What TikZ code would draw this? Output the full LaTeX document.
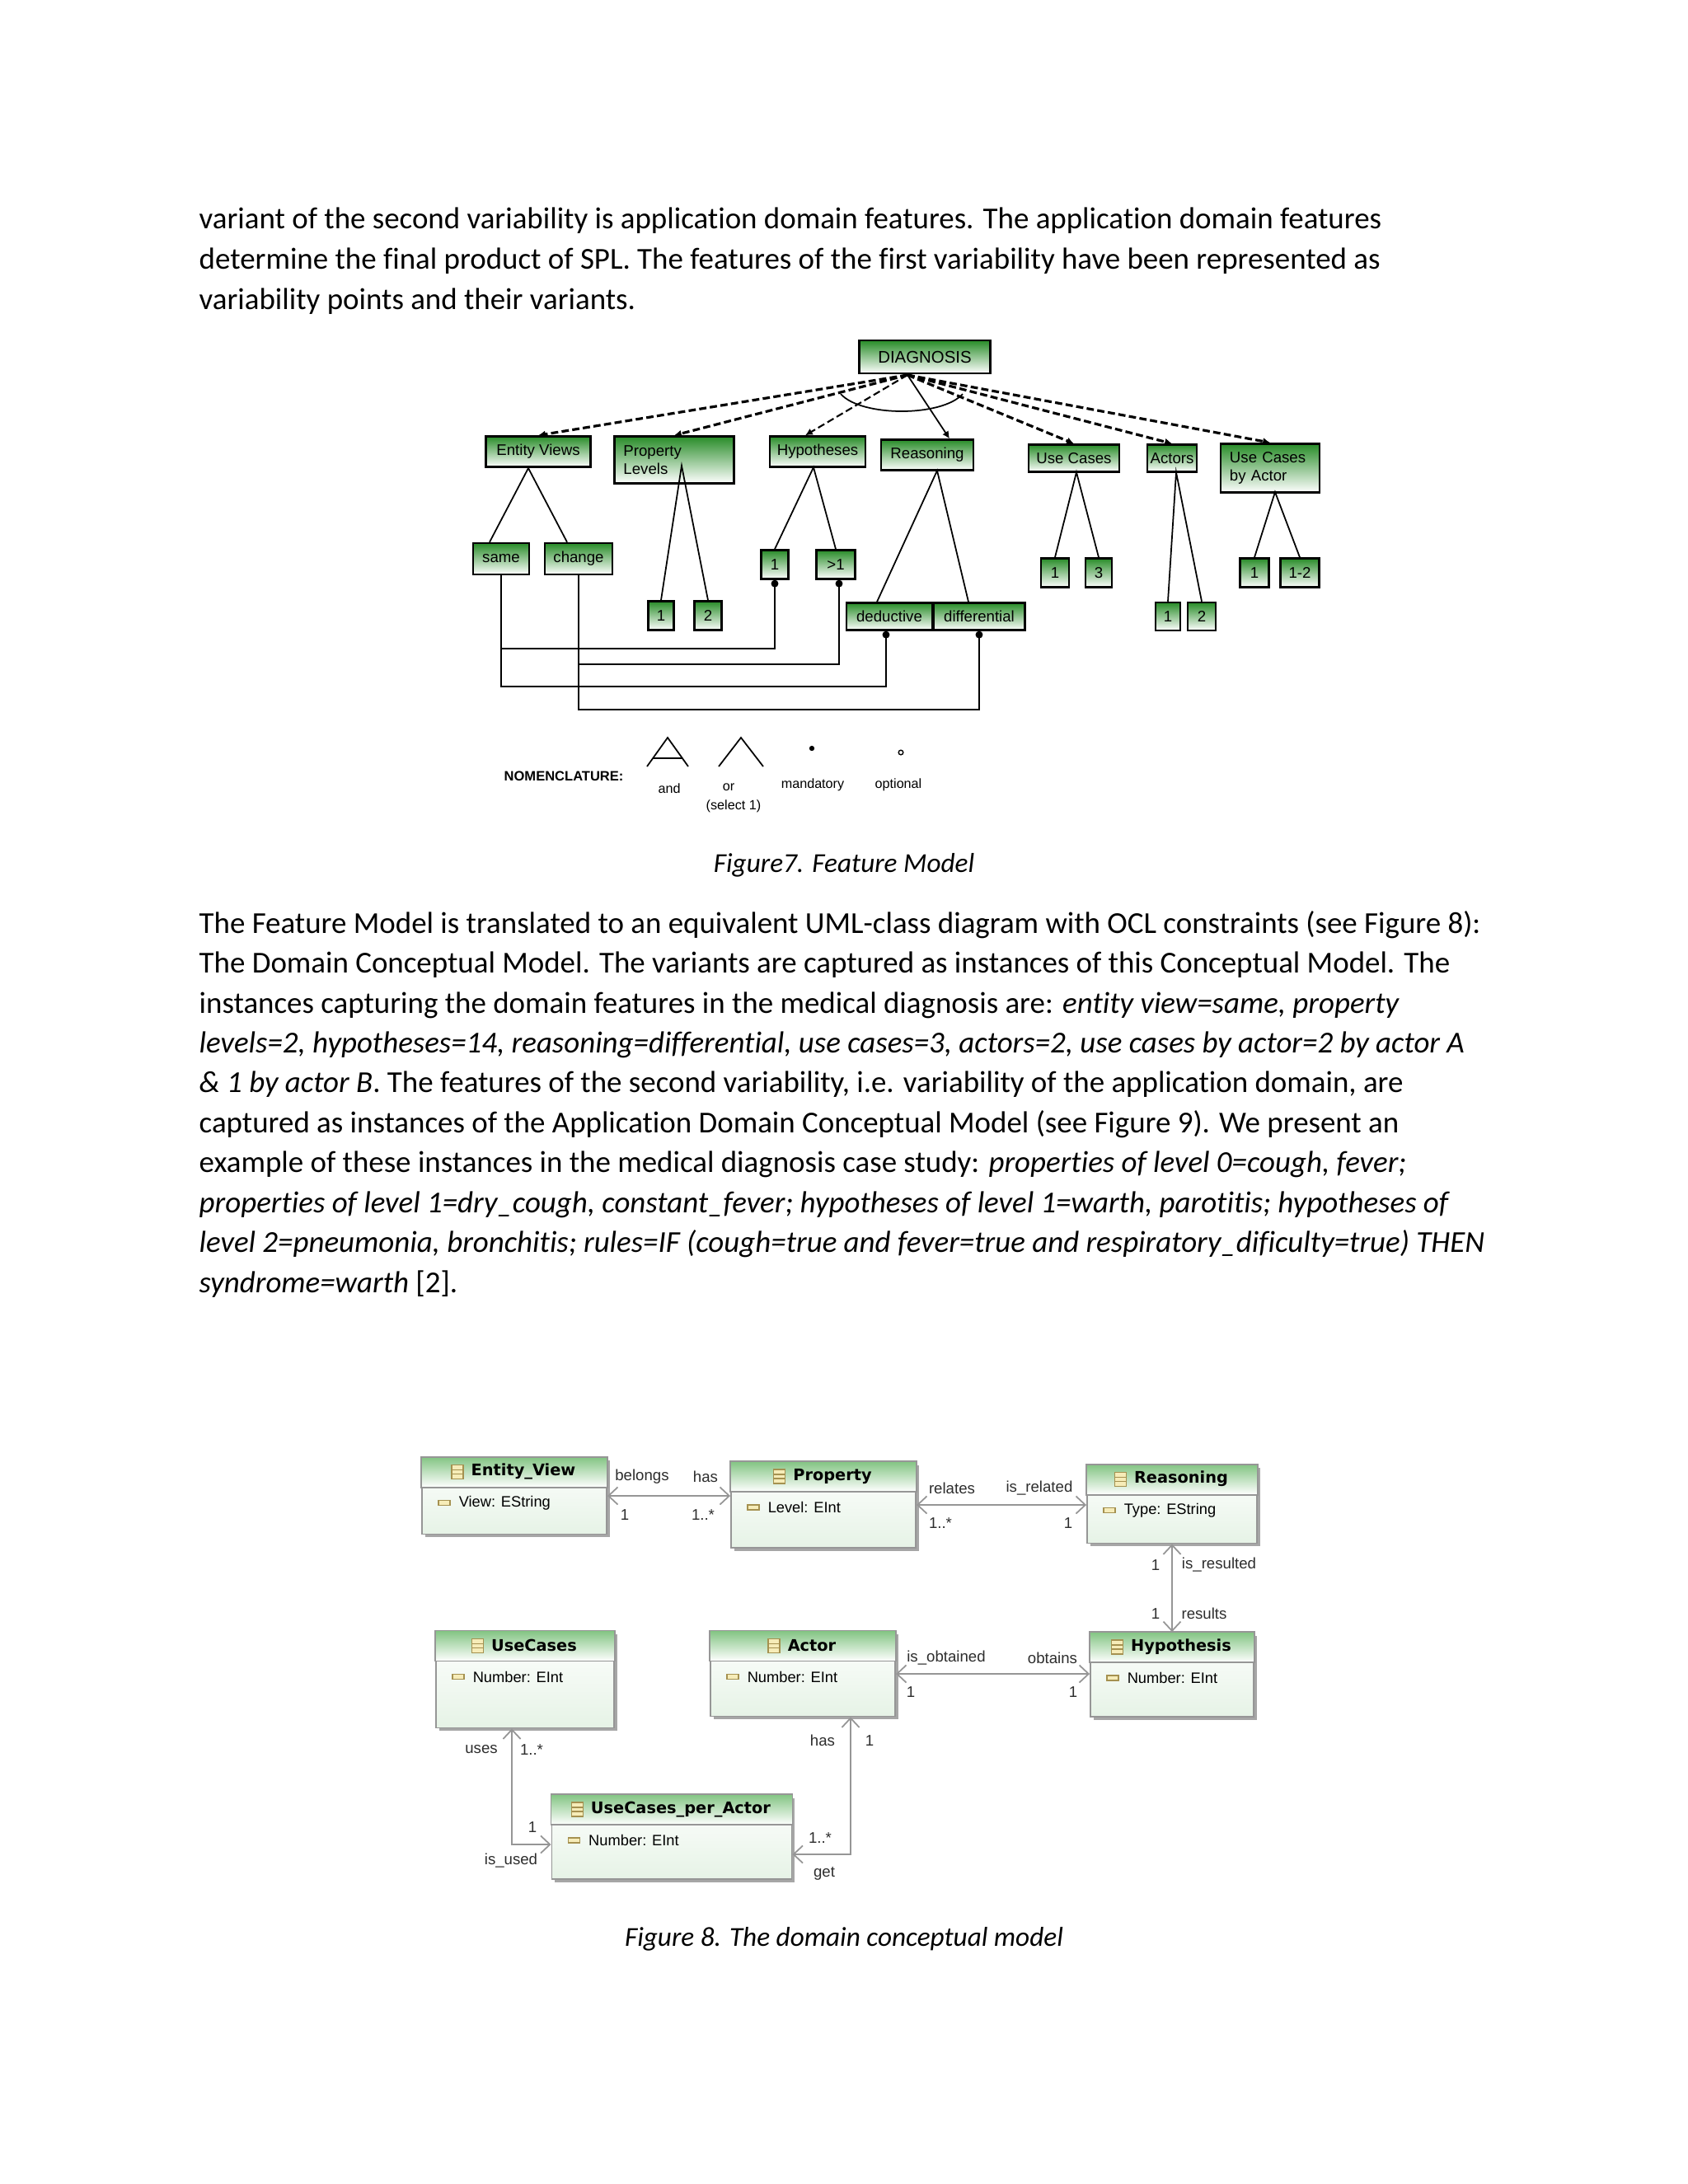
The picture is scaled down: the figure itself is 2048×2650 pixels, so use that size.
\documentclass[tikz,border=0pt]{standalone}
\usepackage{fontspec}
\setmainfont{Carlito}[Ligatures=NoCommon]
\newfontfamily\fmfont{Liberation Sans}
\newfontfamily\umlfont{DejaVu Sans}
\usepackage{tikz}
\usetikzlibrary{arrows.meta,positioning,calc,shadows}
\definecolor{fgreen}{RGB}{40,140,40}
\definecolor{hgreen}{RGB}{130,196,130}
\definecolor{bgreen}{RGB}{230,243,230}
\definecolor{ugray}{RGB}{150,150,150}
\definecolor{iconfill}{RGB}{246,236,184}
\definecolor{iconline}{RGB}{165,145,80}
\definecolor{lblgray}{RGB}{45,45,45}
\tikzset{
  body/.style={anchor=base west,inner sep=0pt,font=\fontsize{10.5}{12.6}\selectfont},
  caption/.style={anchor=base,inner sep=0pt,font=\fontsize{9.45}{11.3}\selectfont\itshape},
  fbox/.style={draw,line width=0.7pt,top color=fgreen,bottom color=white,
               font=\fmfont\fontsize{5.3}{6.4}\selectfont,inner sep=1pt},
  fline/.style={line width=0.5pt},
  fopt/.style={line width=0.9pt,dash pattern=on 2.5pt off 1.2pt,-{Latex[length=2.5pt,width=2.5pt]}},
  fman/.style={line width=0.5pt,-{Latex[length=2.5pt,width=2.5pt]}},
  fcon/.style={line width=0.6pt,-{Circle[length=2.5pt]}},
  nlabel/.style={font=\fmfont\fontsize{4.6}{5.4}\selectfont,inner sep=0pt},
  uclass/.style={draw=ugray,line width=0.5pt,top color=white,bottom color=bgreen,
                 drop shadow={shadow xshift=1.1pt,shadow yshift=-1.1pt,fill=black,opacity=0.35}},
  utitle/.style={font=\umlfont\bfseries\fontsize{5.5}{6.6}\selectfont,inner sep=0pt},
  uattr/.style={font=\fmfont\fontsize{5.2}{6.2}\selectfont,inner sep=0pt,anchor=west},
  uicon/.style={draw=iconline,fill=iconfill,line width=0.4pt},
  uassoc/.style={draw=ugray,line width=0.5pt,
                 {Straight Barb[length=3.2pt,width=6pt]}-{Straight Barb[length=3.2pt,width=6pt]}},
  ulabel/.style={font=\fmfont\fontsize{5.3}{6.4}\selectfont,text=lblgray,inner sep=0pt},
}

\begin{document}
\begin{tikzpicture}[x=0.01cm,y=-0.01cm]
  \fill[white] (0,0) rectangle (2048,2650);
  \useasboundingbox (0,0) rectangle (2048,2650);

  % page text
  \node[body] (l1) at (241,277) {variant of the second variability is application domain features. The application domain features};
  \node[body] (l2) at (241,326) {determine the final product of SPL. The features of the first variability have been represented as};
  \node[body] (l3) at (241,375) {variability points and their variants.};

  % feature model
  \node[fbox,minimum width=1.59cm,minimum height=0.40cm,font=\fmfont\fontsize{5.8}{7}\selectfont] (diag) at (1122,433) {DIAGNOSIS};
  \node[fbox,minimum width=1.27cm,minimum height=0.37cm] (ev) at (653,548) {Entity Views};
  \node[fbox,minimum width=1.45cm,minimum height=0.57cm,text width=1.23cm,align=left,inner sep=0.1cm] (pl) at (818,558) {Property\\Levels};
  \node[fbox,minimum width=1.16cm,minimum height=0.37cm] (hyp) at (992,548) {Hypotheses};
  \node[fbox,minimum width=1.12cm,minimum height=0.37cm] (rea) at (1125,552) {Reasoning};
  \node[fbox,minimum width=1.10cm,minimum height=0.33cm] (uc) at (1303,556) {Use Cases};
  \node[fbox,minimum width=0.59cm,minimum height=0.33cm] (act) at (1422,556) {Actors};
  \node[fbox,minimum width=1.20cm,minimum height=0.57cm,text width=0.98cm,align=left,inner sep=0.1cm] (ucba) at (1541,568) {Use Cases\\by Actor};

  \node[fbox,minimum width=0.68cm,minimum height=0.38cm] (same) at (608,678) {same};
  \node[fbox,minimum width=0.82cm,minimum height=0.38cm] (change) at (702,678) {change};
  \node[fbox,minimum width=0.31cm,minimum height=0.35cm] (pl1) at (802,747) {1};
  \node[fbox,minimum width=0.33cm,minimum height=0.35cm] (pl2) at (859,747) {2};
  \node[fbox,minimum width=0.33cm,minimum height=0.35cm] (hyp1) at (940,685) {1};
  \node[fbox,minimum width=0.47cm,minimum height=0.35cm] (hypm) at (1014,685) {>1};
  \node[fbox,minimum width=1.04cm,minimum height=0.33cm] (ded) at (1079,748) {deductive};
  \node[fbox,minimum width=1.11cm,minimum height=0.33cm] (dif) at (1188,748) {differential};
  \node[fbox,minimum width=0.34cm,minimum height=0.35cm] (uc1) at (1280,695) {1};
  \node[fbox,minimum width=0.32cm,minimum height=0.35cm] (uc3) at (1333,695) {3};
  \node[fbox,minimum width=0.30cm,minimum height=0.34cm] (act1) at (1417,748) {1};
  \node[fbox,minimum width=0.34cm,minimum height=0.34cm] (act2) at (1458,748) {2};
  \node[fbox,minimum width=0.35cm,minimum height=0.35cm] (ucba1) at (1522,695) {1};
  \node[fbox,minimum width=0.47cm,minimum height=0.35cm] (ucba12) at (1577,695) {1-2};

  \coordinate (root) at (1101,455);
  \foreach \t in {ev,pl,uc,act,ucba}
    \draw[fopt] (root) -- (\t.north);
  \draw[fopt,line width=0.6pt] (root) -- ($(hyp.north)+(-15,0)$);
  \draw[fman] (root) -- ($(rea.north)+(27,0)$);
  \draw[fline] (1020,478) .. controls (1045,506) and (1143,506) .. (1168,478);

  \coordinate (evx) at (641,568);
  \coordinate (plx) at (827,565);
  \coordinate (hypx) at (987,567);
  \coordinate (reax) at (1137,571);
  \coordinate (ucx) at (1306,573);
  \coordinate (actx) at (1427,573);
  \coordinate (ucbax) at (1547,597);
  \draw[fline] ($(same.north)+(-14,0)$) -- (evx) -- ($(change.north)+(-14,0)$);
  \draw[fline] (pl1.north) -- (plx) -- (pl2.north);
  \draw[fline] (hyp1.north) -- (hypx) -- (hypm.north);
  \draw[fline] ($(ded.north)+(-15,0)$) -- (reax) -- ($(dif.north)+(-13,0)$);
  \draw[fline] (uc1.north) -- (ucx) -- (uc3.north);
  \draw[fline] (act1.north) -- (actx) -- (act2.north);
  \draw[fline] (ucba1.north) -- (ucbax) -- (ucba12.north);

  % constraints
  \draw[fcon] (same.south) -- ++(0,89) -| (hyp1.south);
  \draw[fcon] (same.south) -- ++(0,135) -| ($(ded.south)+(-4,0)$);
  \draw[fcon] (change.south) -- ++(0,108) -| ($(hypm.south)+(4,0)$);
  \draw[fcon] (change.south) -- ++(0,163) -| (dif.south);

  % nomenclature
  \node[nlabel,font=\fmfont\bfseries\fontsize{4.7}{5.6}\selectfont,anchor=west] (nom) at (611,942) {NOMENCLATURE:};
  \draw[fline] (785,930) -- (810,895) -- (835,930);
  \draw[fline] (792,920) -- (828,920);
  \draw[fline] (872,930) -- (899,895) -- (926,930);
  \fill (985,908) circle (0.9pt);
  \draw[line width=0.4pt] (1093,913) circle (0.8pt);
  \node[nlabel] (nand) at (812,957) {and};
  \node[nlabel] (nor) at (884,955) {or};
  \node[nlabel] (nsel) at (890,978) {(select 1)};
  \node[nlabel] (nman) at (986,952) {mandatory};
  \node[nlabel] (nopt) at (1090,952) {optional};

  \node[caption] (cap7) at (1024,1058) {Figure7. Feature Model};

  \node[body] (m1) at (241,1132) {The Feature Model is translated to an equivalent UML-class diagram with OCL constraints (see Figure 8):};
  \node[body] (m2) at (241,1180) {The Domain Conceptual Model. The variants are captured as instances of this Conceptual Model. The};
  \node[body] (m3) at (241,1229) {instances capturing the domain features in the medical diagnosis are: \textit{entity view=same, property}};
  \node[body] (m4) at (241,1277) {\textit{levels=2, hypotheses=14, reasoning=differential, use cases=3, actors=2, use cases by actor=2 by actor A}};
  \node[body] (m5) at (241,1325) {\textit{\& 1 by actor B}. The features of the second variability, i.e. variability of the application domain, are};
  \node[body] (m6) at (241,1374) {captured as instances of the Application Domain Conceptual Model (see Figure 9). We present an};
  \node[body] (m7) at (241,1422) {example of these instances in the medical diagnosis case study: \textit{properties of level 0=cough, fever;}};
  \node[body] (m8) at (241,1471) {\textit{properties of level 1=dry\_cough, constant\_fever; hypotheses of level 1=warth, parotitis; hypotheses of}};
  \node[body] (m9) at (241,1519) {\textit{level 2=pneumonia, bronchitis; rules=IF (cough=true and fever=true and respiratory\_dificulty=true) THEN}};
  \node[body] (m10) at (241,1568) {\textit{syndrome=warth} [2].};

  % domain conceptual model
  \node[uclass,minimum width=2.24cm,minimum height=0.93cm] (cev) at (624,1815) {};
  \node[uclass,minimum width=2.24cm,minimum height=1.04cm] (cpr) at (999,1826) {};
  \node[uclass,minimum width=2.06cm,minimum height=0.95cm] (cre) at (1422,1825) {};
  \node[uclass,minimum width=2.16cm,minimum height=1.17cm] (cuc) at (637,2038) {};
  \node[uclass,minimum width=2.24cm,minimum height=1.03cm] (cac) at (974,2031) {};
  \node[uclass,minimum width=1.98cm,minimum height=1.02cm] (chy) at (1422,2032) {};
  \node[uclass,minimum width=2.91cm,minimum height=1.02cm] (cup) at (815,2229) {};

  \foreach \n/\ttl/\att in {cev/Entity\_View/View: EString, cpr/Property/Level: EInt,
      cre/Reasoning/Type: EString, cuc/UseCases/Number: EInt, cac/Actor/Number: EInt,
      chy/Hypothesis/Number: EInt, cup/UseCases\_per\_Actor/Number: EInt} {
    \draw[ugray,line width=0.5pt,top color=hgreen,bottom color=white]
      (\n.north west) rectangle ($(\n.north east)+(0,37)$);
    \node[utitle] (\n-t) at ($(\n.north)+(11,18)$) {\ttl};
    \draw[uicon] ($(\n-t.west)+(-23,-8)$) rectangle ($(\n-t.west)+(-9,9)$);
    \draw[iconline,line width=0.4pt] ($(\n-t.west)+(-23,-2)$) -- ($(\n-t.west)+(-9,-2)$)
      ($(\n-t.west)+(-23,3)$) -- ($(\n-t.west)+(-9,3)$);
    \draw[uicon] ($(\n.north west)+(21,53)$) rectangle ($(\n.north west)+(35,59)$);
    \node[uattr] (\n-a) at ($(\n.north west)+(45,56)$) {\att};
  }

  \draw[uassoc] (cev.east) -- (cev.east -| cpr.west);
  \draw[uassoc] (cpr.east) -- (cpr.east -| cre.west);
  \draw[uassoc] (cre.south) -- (chy.north);
  \draw[uassoc] (cac.east) -- (cac.east -| chy.west);
  \draw[uassoc] ($(cuc.south)+(-16,0)$) |- ($(cup.west)+(0,9)$);
  \draw[uassoc] ($(cac.south)+(58,0)$) |- ($(cup.east)+(0,21)$);

  \node[ulabel] (a1) at (779,1792) {belongs};
  \node[ulabel] (a2) at (856,1792) {has};
  \node[ulabel] (a3) at (758,1838) {1};
  \node[ulabel] (a4) at (853,1838) {1..*};
  \node[ulabel] (b1) at (1155,1806) {relates};
  \node[ulabel] (b2) at (1261,1806) {is\_related};
  \node[ulabel] (b3) at (1141,1848) {1..*};
  \node[ulabel] (b4) at (1296,1848) {1};
  \node[ulabel] (c1) at (1402,1899) {1};
  \node[ulabel] (c2) at (1479,1899) {is\_resulted};
  \node[ulabel] (c3) at (1402,1958) {1};
  \node[ulabel] (c4) at (1461,1958) {results};
  \node[ulabel] (d1) at (1148,2012) {is\_obtained};
  \node[ulabel] (d2) at (1277,2012) {obtains};
  \node[ulabel] (d3) at (1105,2053) {1};
  \node[ulabel] (d4) at (1302,2053) {1};
  \node[ulabel] (e1) at (584,2123) {uses};
  \node[ulabel] (e2) at (645,2123) {1..*};
  \node[ulabel] (e3) at (646,2217) {1};
  \node[ulabel] (e4) at (620,2258) {is\_used};
  \node[ulabel] (f1) at (998,2112) {has};
  \node[ulabel] (f2) at (1055,2112) {1};
  \node[ulabel] (f3) at (995,2230) {1..*};
  \node[ulabel] (f4) at (1000,2273) {get};

  \node[caption] (cap8) at (1024,2361) {Figure 8. The domain conceptual model};
\end{tikzpicture}
\end{document}
